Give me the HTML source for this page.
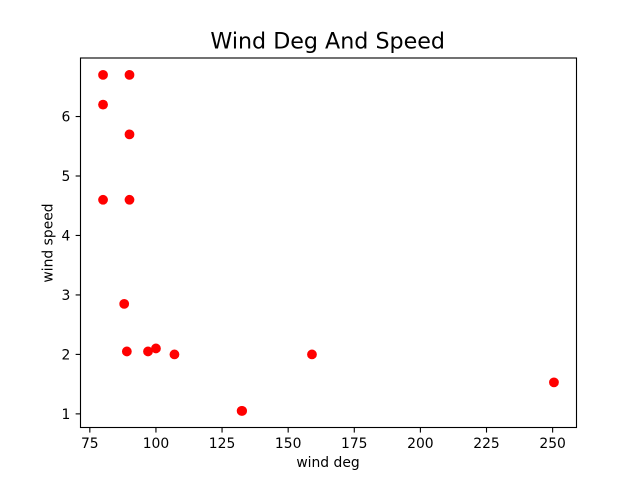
<!DOCTYPE html>
<html lang="en">
<head>
<meta charset="utf-8">
<title>Wind Deg And Speed</title>
<style>
  html, body { margin: 0; padding: 0; background: #fff; }
  svg { display: block; font-family: "DejaVu Sans", "Liberation Sans", sans-serif; }
</style>
</head>
<body>
<svg id="chart" xmlns="http://www.w3.org/2000/svg" width="640" height="480" viewBox="0 0 640 480">
  <rect x="0" y="0" width="640" height="480" fill="#ffffff"/>
  <g id="points"></g>
  <g id="x-ticks"></g>
  <g id="y-ticks"></g>
  <rect x="80.5" y="58" width="496" height="369.5" fill="none" stroke="#000" stroke-width="1.11"/>
  <text x="327.7" y="48.4" font-size="22.2" text-anchor="middle" fill="#000">Wind Deg And Speed</text>
  <text x="328" y="467" font-size="13.89" text-anchor="middle" fill="#000">wind deg</text>
  <text transform="translate(52.6 243) rotate(-90)" font-size="13.89" text-anchor="middle" fill="#000">wind speed</text>
</svg>
<script>
const windDeg = [80, 90, 80, 90, 80, 90, 88, 89, 97, 100, 107, 132.4, 132.6, 159, 250.5];
const windSpeed = [6.7, 6.7, 6.2, 5.7, 4.6, 4.6, 2.85, 2.05, 2.05, 2.1, 2, 1.05, 1.05, 2, 1.53];
const xTickLabels = [75, 100, 125, 150, 175, 200, 225, 250];
const yTickLabels = [1, 2, 3, 4, 5, 6];

const NS = 'http://www.w3.org/2000/svg';
const plotLeft = 80.5, plotRight = 576.5, plotTop = 58.1, plotBottom = 427.7;
const xDomainMin = 71.475, xDomainMax = 259.025;
const yDomainMin = 0.7675, yDomainMax = 6.9825;

function xScale(v) {
  return plotLeft + (v - xDomainMin) / (xDomainMax - xDomainMin) * (plotRight - plotLeft);
}
function yScale(v) {
  return plotBottom - (v - yDomainMin) / (yDomainMax - yDomainMin) * (plotBottom - plotTop);
}

const pointsGroup = document.getElementById('points');
windDeg.forEach(function (deg, i) {
  const dot = document.createElementNS(NS, 'circle');
  
  
  dot.setAttribute('cx', xScale(deg));
  dot.setAttribute('cy', yScale(windSpeed[i]));
  dot.setAttribute('r', 4.9);
  dot.setAttribute('fill', '#ff0000');
  pointsGroup.appendChild(dot);
});

const xTicksGroup = document.getElementById('x-ticks');
xTickLabels.forEach(function (value) {
  const x = xScale(value);
  const mark = document.createElementNS(NS, 'line');
  
  
  mark.setAttribute('x1', x);
  mark.setAttribute('x2', x);
  mark.setAttribute('y1', plotBottom);
  mark.setAttribute('y2', plotBottom + 4.86);
  mark.setAttribute('stroke', '#000');
  mark.setAttribute('stroke-width', 1.11);
  xTicksGroup.appendChild(mark);
  const label = document.createElementNS(NS, 'text');
  
  
  label.setAttribute('x', x);
  label.setAttribute('y', 448);
  label.setAttribute('font-size', 13.89);
  label.setAttribute('text-anchor', 'middle');
  label.setAttribute('fill', '#000');
  label.textContent = value;
  xTicksGroup.appendChild(label);
});

const yTicksGroup = document.getElementById('y-ticks');
yTickLabels.forEach(function (value) {
  const y = yScale(value);
  const mark = document.createElementNS(NS, 'line');
  
  
  mark.setAttribute('x1', plotLeft - 4.86);
  mark.setAttribute('x2', plotLeft);
  mark.setAttribute('y1', y);
  mark.setAttribute('y2', y);
  mark.setAttribute('stroke', '#000');
  mark.setAttribute('stroke-width', 1.11);
  yTicksGroup.appendChild(mark);
  const label = document.createElementNS(NS, 'text');
  
  
  label.setAttribute('x', 70.3);
  label.setAttribute('y', y + 5);
  label.setAttribute('font-size', 13.89);
  label.setAttribute('text-anchor', 'end');
  label.setAttribute('fill', '#000');
  label.textContent = value;
  yTicksGroup.appendChild(label);
});
</script>
</body>
</html>
